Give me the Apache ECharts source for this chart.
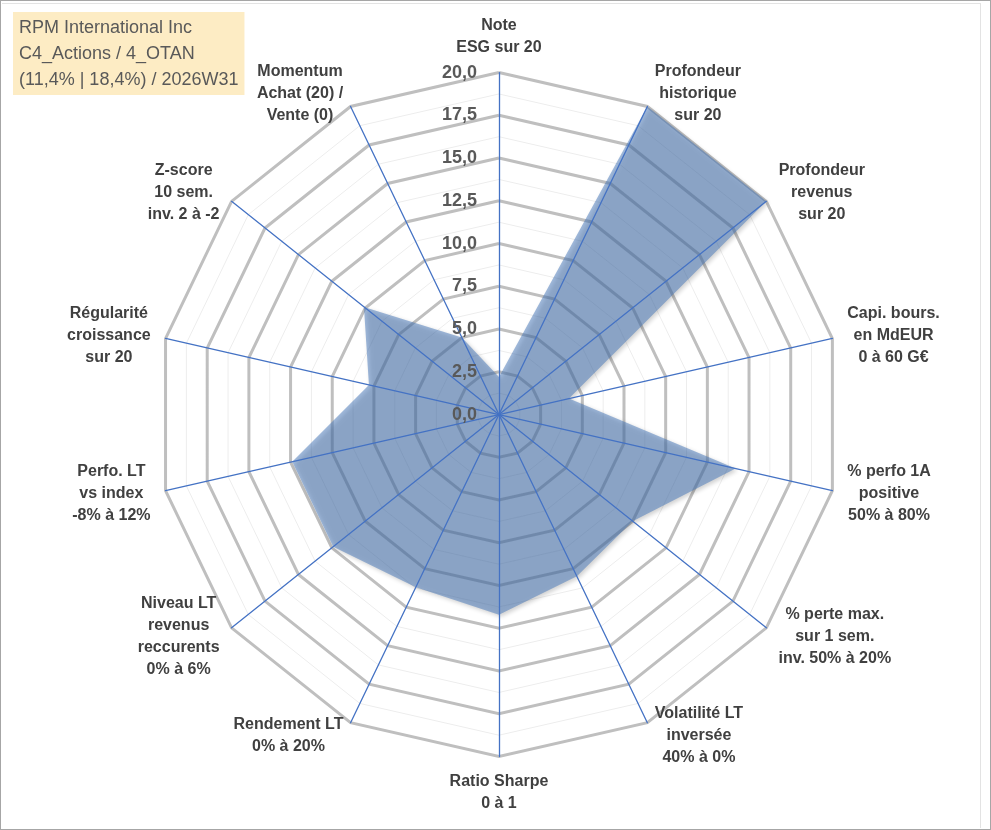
<!DOCTYPE html>
<html>
<head>
<meta charset="utf-8">
<script src="https://cdn.jsdelivr.net/npm/echarts@6/dist/echarts.min.js"></script>
<style>
    html, body { margin: 0; padding: 0; background: #fff; }
    #wrap { position: relative; width: 991px; height: 830px; box-sizing: border-box; border: 1px solid #a6a6a6; }
    #frame { position: absolute; left: 1px; top: 2px; width: 978px; height: 824px; border-right: 1px solid #e3e3e3; border-top: 1px solid #e3e3e3; }
    #radar { position: absolute; left: 0; top: 0; width: 989px; height: 828px; }
</style>
</head>
<body>
<div id="wrap"><div id="frame"></div><div id="radar"></div></div>
<script>
// axes, clockwise from the top
var axisNames = [
    'Note\nESG sur 20',
    'Profondeur\nhistorique\nsur 20',
    'Profondeur\nrevenus\nsur 20',
    'Capi. bours.\nen MdEUR\n0 à 60 G€',
    '% perfo 1A\npositive\n50% à 80%',
    '% perte max.\nsur 1 sem.\ninv. 50% à 20%',
    'Volatilité LT\ninversée\n40% à 0%',
    'Ratio Sharpe\n0 à 1',
    'Rendement LT\n0% à 20%',
    'Niveau LT\nrevenus\nreccurents\n0% à 6%',
    'Perfo. LT\nvs index\n-8% à 12%',
    'Régularité\ncroissance\nsur 20',
    'Z-score\n10 sem.\ninv. 2 à -2',
    'Momentum\nAchat (20) /\nVente (0)'
];
var scores = [2.2, 20, 20, 4.2, 14.2, 10, 10.5, 11.7, 11.2, 12.4, 12.4, 7.8, 10.1, 5.0];
var tickLabels = ['0,0', '2,5', '5,0', '7,5', '10,0', '12,5', '15,0', '17,5', '20,0'];
var scoreMax = 20;
var titleLines = ['RPM International Inc', 'C4_Actions / 4_OTAN', '(11,4% | 18,4%) / 2026W31'];

// echarts pose les axes du radar dans le sens anti-horaire -> on inverse
var order = [0];
for (var i = axisNames.length - 1; i > 0; i--) order.push(i);

// largeur de chaque bloc de libellé pour centrer les lignes entre elles
var nameFont = 'bold 16px "Liberation Sans"';
var ctx = document.createElement('canvas').getContext('2d');
ctx.font = nameFont;
var rich = {};
var nameIndex = {};
axisNames.forEach(function (n, k) {
    var w = 0;
    n.split('\n').forEach(function (l) { w = Math.max(w, ctx.measureText(l).width); });
    rich['n' + k] = {
        width: Math.ceil(w) + 2,
        align: 'center',
        color: '#404040',
        fontFamily: 'Liberation Sans',
        fontWeight: 'bold',
        fontSize: 16,
        lineHeight: 22
    };
    nameIndex[n] = k;
});

var indicators = order.map(function (i) { return { name: axisNames[i], min: 0, max: scoreMax }; });
var blank = order.map(function () { return { name: '', min: 0, max: scoreMax }; });
var values = order.map(function (i) { return scores[i]; });

var center = ['50.35%', '49.95%'];
var radius = 342;

var myChart = echarts.init(document.getElementById('radar'));
var option = {
    animation: false,
    title: {
        text: titleLines.join('\n'),
        left: 12,
        top: 11,
        padding: [3, 6, 2, 6],
        backgroundColor: '#fdecc4',
        textStyle: {
            fontFamily: 'Liberation Sans',
            fontSize: 18,
            fontWeight: 'normal',
            color: '#595959',
            lineHeight: 26
        }
    },
    radar: [{
        // petit quadrillage
        indicator: blank,
        center: center,
        radius: radius,
        startAngle: 90,
        shape: 'polygon',
        splitNumber: 16,
        z: 0,
        axisName: { show: false },
        axisLine: { show: false },
        splitArea: { show: false },
        splitLine: { lineStyle: { color: '#ededed', width: 1 } }
    }, {
        indicator: indicators,
        center: center,
        radius: radius,
        startAngle: 90,
        shape: 'polygon',
        splitNumber: 8,
        nameGap: 14,
        z: 1,
        axisName: {
            formatter: function (name) {
                var k = nameIndex[name];
                return name.split('\n').map(function (l) { return '{n' + k + '|' + l + '}'; }).join('\n');
            },
            rich: rich
        },
        axisLine: { show: false },
        splitArea: { show: false },
        splitLine: { lineStyle: { color: '#bfbfbf', width: 3 } }
    }, {
        // rayons bleus au dessus de la surface
        indicator: blank,
        center: center,
        radius: radius,
        startAngle: 90,
        shape: 'polygon',
        z: 5,
        axisName: { show: false },
        axisLine: { lineStyle: { color: '#4472c4', width: 1.3 } },
        splitArea: { show: false },
        splitLine: { show: false }
    }],
    polar: { center: center, radius: radius },
    angleAxis: { show: false, startAngle: 90, min: 0, max: 360 },
    radiusAxis: {
        min: 0,
        max: scoreMax,
        interval: 2.5,
        z: 6,
        axisLine: { show: false },
        axisTick: { show: false },
        splitLine: { show: false },
        axisLabel: {
            color: '#595959',
            fontFamily: 'Liberation Sans',
            fontWeight: 'bold',
            fontSize: 18,
            margin: 22,
            formatter: function (v) { return tickLabels[Math.round(v / 2.5)]; }
        }
    },
    series: [{
        type: 'radar',
        radarIndex: 1,
        z: 3,
        symbol: 'none',
        lineStyle: { width: 0 },
        areaStyle: {
            color: 'rgba(74,121,186,0.75)',
            shadowColor: 'rgba(0,0,0,0.35)',
            shadowBlur: 4,
            shadowOffsetX: 2,
            shadowOffsetY: 2
        },
        data: [{ value: values }]
    }]
};
option && myChart.setOption(option);
</script>
</body>
</html>
